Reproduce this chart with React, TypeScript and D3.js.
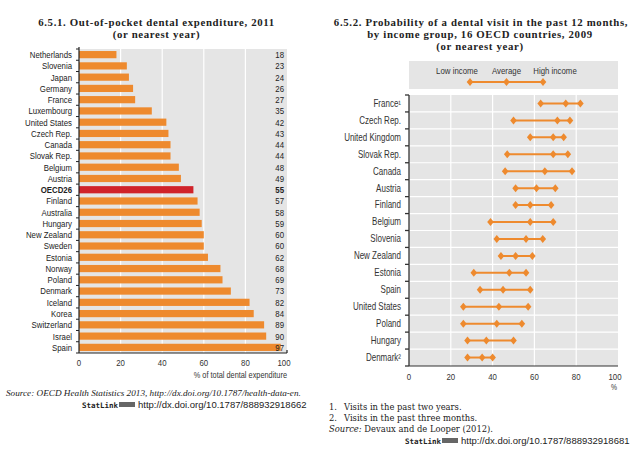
import React from "react";
import * as d3 from "d3";

// ---------- Data: chart 6.5.1 ----------
const leftCountries = [
  "Netherlands", "Slovenia", "Japan", "Germany", "France", "Luxembourg",
  "United States", "Czech Rep.", "Canada", "Slovak Rep.", "Belgium", "Austria",
  "OECD26", "Finland", "Australia", "Hungary", "New Zealand", "Sweden",
  "Estonia", "Norway", "Poland", "Denmark", "Iceland", "Korea",
  "Switzerland", "Israel", "Spain",
];
const leftValues = [
  18, 23, 24, 26, 27, 35, 42, 43, 44, 44, 48, 49, 55, 57, 58, 59, 60, 60,
  62, 68, 69, 73, 82, 84, 89, 90, 97,
];
const leftTicks = [0, 20, 40, 60, 80, 100];

// ---------- Data: chart 6.5.2 ----------
const rightCountries = [
  "France¹", "Czech Rep.", "United Kingdom", "Slovak Rep.", "Canada",
  "Austria", "Finland", "Belgium", "Slovenia", "New Zealand", "Estonia",
  "Spain", "United States", "Poland", "Hungary", "Denmark²",
];
const lowIncome = [63, 50, 58, 47, 46, 51, 51, 39, 42, 44, 31, 34, 26, 26, 28, 28];
const averageIncome = [75, 71, 69, 69, 65, 61, 58, 58, 56, 51, 48, 45, 43, 42, 37, 35];
const highIncome = [82, 77, 74, 76, 78, 70, 68, 69, 64, 59, 56, 58, 57, 54, 50, 40];
const rightTicks = [0, 20, 40, 60, 80, 100];
const legendLabels = ["Low income", "Average", "High income"];

const ORANGE = "#ee8a2e";
const RED = "#d0232a";
const GREY = "#e5e5e5";
const SANS = "'Liberation Sans', Arial, sans-serif";
const SERIF = "'Liberation Serif', 'DejaVu Serif', serif";
const NOTE = "'DejaVu Serif', serif";

function diamond(cx: number, cy: number, w: number, h: number) {
  return `M${cx},${cy - h} L${cx + w},${cy} L${cx},${cy + h} L${cx - w},${cy} Z`;
}

// Narrow sans text (horizontally condensed Liberation Sans)
function NText(props: {
  x: number; y: number; anchor?: string; size?: number; bold?: boolean; fill?: string; children: React.ReactNode;
}) {
  const { x, y, anchor = "start", size = 9.8, bold = false, fill = "#222", children } = props;
  return (
    <text transform={`translate(${x},${y}) scale(0.8,1)`} textAnchor={anchor} fontFamily={SANS}
      fontSize={size} fontWeight={bold ? "bold" : "normal"} fill={fill}>{children}</text>
  );
}

function Title(props: { x: number; y: number; children: React.ReactNode }) {
  return (
    <text x={props.x} y={props.y} textAnchor="middle" fontFamily={SERIF} fontWeight="bold" fontSize={10.8}
      letterSpacing={0.65} fill="#222">{props.children}</text>
  );
}

export default function App() {
  // Left chart geometry
  const lx = d3.scaleLinear().domain([0, 100]).range([79, 287]);
  const ly = d3.scaleBand<string>().domain(leftCountries).range([49, 353]).paddingInner(0.36).paddingOuter(0.18);

  // Right chart geometry
  const rx = d3.scaleLinear().domain([0, 100]).range([409, 618]);
  const ry = d3.scaleBand<string>().domain(rightCountries).range([95, 366]);
  const legendX = d3.scalePoint<string>().domain(legendLabels).range([470, 543]);

  const leftBandStarts = d3.range(leftCountries.length + 1).map((i) => 49 + i * ((353 - 49) / leftCountries.length));

  return (
    <svg width={637} height={457} style={{ display: "block", position: "absolute", left: 0, top: 0, background: "#fff" }}>
      {/* ===== Left chart ===== */}
      <Title x={156.5} y={26}>6.5.1.  Out-of-pocket dental expenditure, 2011</Title>
      <Title x={156.5} y={38}>(or nearest year)</Title>

      <rect x={lx(0)} y={49} width={lx(100) - lx(0)} height={353 - 49} fill={GREY} />
      {leftTicks.slice(1, -1).map((t) => (
        <line key={"lg" + t} x1={lx(t)} x2={lx(t)} y1={49} y2={353} stroke="#fff" strokeWidth={1.2} />
      ))}
      {leftCountries.map((c, i) => {
        const y = ly(c)!;
        const isOecd = c === "OECD26";
        const ty = y + ly.bandwidth() / 2 + 3.4;
        return (
          <g key={c}>
            <rect x={lx(0)} y={y} width={lx(leftValues[i]) - lx(0)} height={ly.bandwidth()} fill={isOecd ? RED : ORANGE} />
            <NText x={72} y={ty} anchor="end" bold={isOecd}>{c}</NText>
            <NText x={284} y={ty} anchor="end" bold={isOecd}>{leftValues[i]}</NText>
          </g>
        );
      })}
      {leftBandStarts.map((y, i) => (
        <line key={"lt" + i} x1={76} x2={79} y1={y} y2={y} stroke="#222" strokeWidth={1} />
      ))}
      <line x1={79} x2={79} y1={47} y2={353} stroke="#222" strokeWidth={1.2} />
      <line x1={79} x2={287} y1={353} y2={353} stroke="#222" strokeWidth={1.2} />
      <line x1={287} x2={287} y1={350} y2={353} stroke="#222" strokeWidth={1.2} />
      {leftTicks.map((t) => (
        <NText key={"ltl" + t} x={lx(t) - (t === 100 ? 3 : 0)} y={366} anchor="middle" fill="#333">{t}</NText>
      ))}
      <NText x={287} y={378} anchor="end" size={9.2} fill="#333">% of total dental expenditure</NText>

      <text x={6} y={396} fontFamily={SERIF} fontSize={9.2} fontStyle="italic" fill="#222">
        Source:  OECD Health Statistics 2013, http://dx.doi.org/10.1787/health-data-en.
      </text>
      <text x={82} y={408} fontFamily="'DejaVu Sans Mono', monospace" fontWeight="bold" fontSize={7.5} fill="#222">StatLink</text>
      <rect x={119} y={402} width={16} height={5} fill="#666" />
      <text x={138} y={408} fontFamily={SANS} fontSize={9.5} fill="#222">http://dx.doi.org/10.1787/888932918662</text>

      {/* ===== Right chart ===== */}
      <Title x={481} y={25.5}>6.5.2.  Probability of a dental visit in the past 12 months,</Title>
      <Title x={480} y={37.5}>by income group, 16 OECD countries, 2009</Title>
      <Title x={480} y={49.5}>(or nearest year)</Title>

      {/* legend */}
      <rect x={409} y={61} width={209} height={28} fill={GREY} />
      {legendLabels.map((l) => (
        <NText key={l} x={legendX(l)! - (l === "Low income" ? 13 : l === "High income" ? -12 : 0)} y={74} anchor="middle" fill="#333">{l}</NText>
      ))}
      <line x1={legendX("Low income")!} x2={legendX("High income")!} y1={82} y2={82} stroke={ORANGE} strokeWidth={2} />
      {legendLabels.map((l) => (
        <path key={"ld" + l} d={diamond(legendX(l)!, 82, 3.3, 4)} fill={ORANGE} />
      ))}

      <rect x={409} y={95} width={209} height={366 - 95} fill={GREY} />
      {rightTicks.slice(1, -1).map((t) => (
        <line key={"rg" + t} x1={rx(t)} x2={rx(t)} y1={95} y2={366} stroke="#fff" strokeWidth={1.2} />
      ))}
      {rightCountries.slice(1).map((c) => (
        <line key={"rh" + c} x1={409} x2={618} y1={ry(c)!} y2={ry(c)!} stroke="#fff" strokeWidth={1.2} />
      ))}
      {rightCountries.map((c) => (
        <line key={"rt" + c} x1={405} x2={409} y1={ry(c)!} y2={ry(c)!} stroke="#333" strokeWidth={1.3} />
      ))}
      <line x1={405} x2={409} y1={366} y2={366} stroke="#333" strokeWidth={1.3} />
      {rightCountries.map((c, i) => {
        const cy = ry(c)! + ry.bandwidth() / 2;
        return (
          <g key={"rr" + c}>
            <NText x={401} y={cy + 3.4} anchor="end" size={10} fill="#333">{c}</NText>
            <line x1={rx(lowIncome[i])} x2={rx(highIncome[i])} y1={cy} y2={cy} stroke={ORANGE} strokeWidth={2} />
            {[lowIncome[i], averageIncome[i], highIncome[i]].map((v, k) => (
              <path key={k} d={diamond(rx(v), cy, 3.3, 4)} fill={ORANGE} />
            ))}
          </g>
        );
      })}
      <line x1={409} x2={409} y1={95} y2={366} stroke="#333" strokeWidth={1.3} />
      <line x1={409} x2={618} y1={366} y2={366} stroke="#333" strokeWidth={1.2} />
      {rightTicks.map((t) => (
        <NText key={"rtl" + t} x={rx(t) - (t === 100 ? 3 : 0)} y={380} anchor="middle" fill="#333">{t}</NText>
      ))}
      <NText x={614} y={390} anchor="middle" size={8.5} fill="#333">%</NText>

      <text x={329} y={410} fontFamily={NOTE} fontSize={8.4} fill="#222">1.</text>
      <text x={344} y={410} fontFamily={NOTE} fontSize={8.4} fill="#222">Visits in the past two years.</text>
      <text x={329} y={421} fontFamily={NOTE} fontSize={8.4} fill="#222">2.</text>
      <text x={344} y={421} fontFamily={NOTE} fontSize={8.4} fill="#222">Visits in the past three months.</text>
      <text x={329} y={432} fontFamily={NOTE} fontSize={8.4} fill="#222">
        <tspan fontStyle="italic">Source:</tspan>  Devaux and de Looper (2012).
      </text>
      <text x={405} y={444} fontFamily="'DejaVu Sans Mono', monospace" fontWeight="bold" fontSize={7.5} fill="#222">StatLink</text>
      <rect x={442} y={438} width={16} height={5} fill="#666" />
      <text x={461} y={444} fontFamily={SANS} fontSize={9.5} fill="#222">http://dx.doi.org/10.1787/888932918681</text>
    </svg>
  );
}
